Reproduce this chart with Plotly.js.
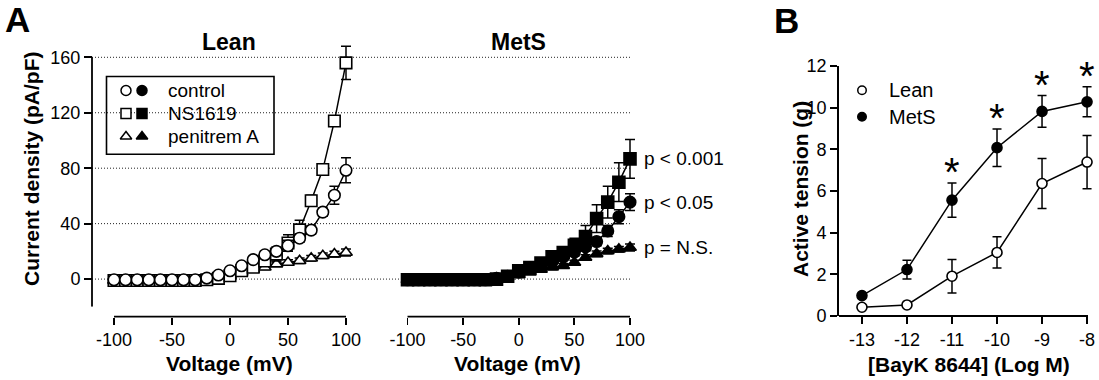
<!DOCTYPE html>
<html><head><meta charset="utf-8">
<script src="https://cdn.plot.ly/plotly-3.0.1.min.js"></script>
<style>html,body{margin:0;padding:0;background:#fff}#chart{width:1099px;height:380px}</style>
</head><body><div id="chart"></div>
<script>
// ---------- DATA ----------
const voltage = [-100,-90,-80,-70,-60,-50,-40,-30,-20,-10,0,10,20,30,40,50,60,70,80,90,100];

const leanControl    = [-0.5,-0.5,-0.5,-0.5,-0.5,-0.5,-0.5,-0.5,0.7,2.9,6,9.6,14,17.5,20,24,29.5,35.3,48.3,60.5,78.5];
const leanControlErr = [0.5,0.5,0.5,0.5,0.5,0.5,0.5,0.5,0.5,1,1,1.5,2,2.5,3,4,3,3,3,6.5,9];
const leanNS         = [-1,-1,-1,-1,-1,-1,-1,-1,-0.5,0.5,2.4,6,8.5,13,18,26,35.5,56.5,79,114,156];
const leanNSErr      = [0.5,0.5,0.5,0.5,0.5,0.5,0.5,0.5,0.5,1,1,1.5,2,3,5,6,7,4,3,3,12];
const leanPen        = [-1,-1,-1,-1,-1,-1,-1,-1,-0.5,0,2.5,4.8,7,8.5,10.8,12,13.2,15,16.8,18,19.2];
const leanPenErr     = [0.5,0.5,0.5,0.5,0.5,0.5,0.5,0.5,0.5,0.5,1,1,1,1.5,1.5,2,2,2,2,2,2.5];

const metsControl    = [-0.5,-0.5,-0.5,-0.5,-0.5,-0.5,-0.5,-0.5,0.5,2,5,8,10,12.5,16,19.5,23.2,27.1,34.7,45,55.5];
const metsControlErr = [0.5,0.5,0.5,0.5,0.5,0.5,0.5,0.5,0.5,1,1,1.5,2,2,2.5,3,3,3,4,5,6];
const metsNS         = [-0.5,-0.5,-0.5,-0.5,-0.5,-0.5,-0.5,-0.5,0,2,6,8.4,11.5,16,19.2,24.4,30.7,43.6,55.5,69.9,86.7];
const metsNSErr      = [0.5,0.5,0.5,0.5,0.5,0.5,0.5,0.5,0.5,1,1.5,2,2.5,3,4,5,8,10,11.5,14,14];
const metsPen        = [-0.5,-0.5,-0.5,-0.5,-0.5,-0.5,-0.5,-0.5,0.5,1.5,3,5,7,8.5,9.7,12,15.6,18.2,20.3,21.5,22.8];
const metsPenErr     = [0.5,0.5,0.5,0.5,0.5,0.5,0.5,0.5,0.5,0.5,1,1,1,1.5,1.5,1.5,2,2,2,2,2.5];

const seriesNames = ['control','NS1619','penitrem A'];
const pLabels     = ['p < 0.001','p < 0.05','p = N.S.'];   // NS1619, control, penitrem A (MetS)

const xTicksA = [-100,-50,0,50,100];
const xTickTextA = ['-100','-50','0','50','100'];
const yTicksA = [0,40,80,120,160];

const bayK      = [-13,-12,-11,-10,-9,-8];
const bayKText  = ['-13','-12','-11','-10','-9','-8'];
const leanB     = [0.42,0.53,1.91,3.05,6.36,7.39];
const leanBErr  = [0.1,0.1,0.8,0.75,1.2,1.28];
const metsB     = [0.98,2.23,5.56,8.08,9.82,10.28];
const metsBErr  = [0.1,0.45,0.82,0.9,0.76,0.72];
const sigB      = ['','','*','*','*','*'];
const groupsB   = ['Lean','MetS'];
const yTicksB   = [0,2,4,6,8,10,12];

// ---------- HELPERS ----------
const W = 1099, H = 380;
const px = v => v / W, py = v => 1 - v / H;
const FONT = 'Liberation Sans, Arial, Helvetica, sans-serif';
const BLACK = '#000';

function series(x, y, err, xa, ya, symbol, fill, size, capw) {
  return {
    type: 'scatter', mode: 'lines+markers', x: x, y: y, xaxis: xa, yaxis: ya,
    cliponaxis: false, showlegend: false, hoverinfo: 'skip',
    line: {color: BLACK, width: 1.5},
    marker: {symbol: symbol, size: size, color: fill, line: {color: BLACK, width: 1.6}},
    error_y: {type: 'data', array: err, visible: true, color: BLACK, thickness: 1.5, width: capw}
  };
}

const traces = [
  // Lean (A)
  series(voltage, leanPen, leanPenErr, 'x', 'y', 'triangle-up', '#fff', 11, 5),
  series(voltage, leanNS, leanNSErr, 'x', 'y', 'square', '#fff', 11.5, 5),
  series(voltage, leanControl, leanControlErr, 'x', 'y', 'circle', '#fff', 11.5, 5),
  // MetS (A)
  series(voltage, metsPen, metsPenErr, 'x2', 'y', 'triangle-up', BLACK, 11, 5),
  series(voltage, metsControl, metsControlErr, 'x2', 'y', 'circle', BLACK, 11.5, 5),
  series(voltage, metsNS, metsNSErr, 'x2', 'y', 'square', BLACK, 12, 5),
  // B
  series(bayK, leanB, leanBErr, 'x3', 'y3', 'circle', '#fff', 10, 4.5),
  series(bayK, metsB, metsBErr, 'x3', 'y3', 'circle', BLACK, 10, 4.5),
  // legend A markers (hidden category axes)
  {type: 'scatter', mode: 'markers', x: seriesNames.map(() => 'open'), y: seriesNames,
   xaxis: 'x4', yaxis: 'y4', cliponaxis: false, showlegend: false, hoverinfo: 'skip',
   marker: {symbol: ['circle','square','triangle-up'], size: 10, color: '#fff', line: {color: BLACK, width: 1.5}}},
  {type: 'scatter', mode: 'markers', x: seriesNames.map(() => 'filled'), y: seriesNames,
   xaxis: 'x4', yaxis: 'y4', cliponaxis: false, showlegend: false, hoverinfo: 'skip',
   marker: {symbol: ['circle','square','triangle-up'], size: 10, color: BLACK, line: {color: BLACK, width: 1.5}}},
  // legend B markers
  {type: 'scatter', mode: 'markers', x: groupsB.map(() => 'm'), y: groupsB,
   xaxis: 'x5', yaxis: 'y5', cliponaxis: false, showlegend: false, hoverinfo: 'skip',
   marker: {symbol: 'circle', size: 8.5, color: ['#fff', BLACK], line: {color: BLACK, width: 1.5}}}
];

const axisStyle = {
  showline: true, linecolor: BLACK, linewidth: 1.8, ticks: 'outside', tickcolor: BLACK,
  tickwidth: 1.8, ticklen: 7, showgrid: false, zeroline: false, fixedrange: true,
  tickfont: {family: FONT, size: 18, color: BLACK}
};

// geometry (pixels) of the reference axes
const A_Y_BOTTOM = 306.8, A_Y_TOP = 57.3, A_YMIN = -20, A_YMAX = 160;
const aYScale = (A_Y_BOTTOM - A_Y_TOP) / (A_YMAX - A_YMIN);
const A_Y_PAD = 22; // extra room above 160 so error bars are not clipped
const A_X_PAD = 12;
const leanX0 = 114, leanX1 = 346, metsX0 = 407.5, metsX1 = 630;
const leanScale = (leanX1 - leanX0) / 200, metsScale = (metsX1 - metsX0) / 200;
const B_X0 = 839, B_X1 = 1088, B_XMIN = -13.51, B_XMAX = -8, B_X_PAD = 12;
const bScale = (B_X1 - B_X0) / (B_XMAX - B_XMIN);
const AX_Y = 316.7;

const axLine = {color: BLACK, width: 1.8};
const shapes = yTicksA.map(v => ({
  type: 'line', xref: 'paper', yref: 'y', x0: px(92), x1: px(630), y0: v, y1: v,
  line: {color: '#222', width: 1, dash: '1px,2px'}, layer: 'below'
}));
// axis lines for panel A (drawn only over their tick span, as in the reference)
shapes.push({type: 'line', xref: 'paper', yref: 'y', x0: px(92), x1: px(92), y0: A_YMIN, y1: A_YMAX, line: axLine});
shapes.push({type: 'line', xref: 'x', yref: 'paper', x0: xTicksA[0], x1: xTicksA[xTicksA.length-1], y0: py(AX_Y), y1: py(AX_Y), line: axLine});
shapes.push({type: 'line', xref: 'x2', yref: 'paper', x0: xTicksA[0], x1: xTicksA[xTicksA.length-1], y0: py(AX_Y), y1: py(AX_Y), line: axLine});
// x axis line for panel B
shapes.push({type: 'line', xref: 'paper', yref: 'paper', x0: px(B_X0), x1: px(B_X1), y0: py(316), y1: py(316), line: axLine});
// legend box A
shapes.push({type: 'rect', xref: 'paper', yref: 'paper', x0: px(106.5), x1: px(274), y0: py(154.3), y1: py(76.5),
  line: {color: BLACK, width: 1.6}, fillcolor: 'rgba(0,0,0,0)'});

const ann = [];
function txt(text, x, y, size, bold, extra) {
  ann.push(Object.assign({text: bold ? '<b>' + text + '</b>' : text, xref: 'paper', yref: 'paper',
    x: px(x), y: py(y), xanchor: 'center', yanchor: 'middle', showarrow: false,
    font: {family: FONT, size: size, color: BLACK}}, extra || {}));
}
txt('A', 17, 19, 35, true);
txt('B', 786, 21, 35, true);
txt('Lean', 229, 42, 23, true);
txt('MetS', 518, 42, 23, true);
txt('Current density (pA/pF)', 32, 169, 21, true, {textangle: -90});
txt('Voltage (mV)', 229.5, 363, 21, true);
txt('Voltage (mV)', 517.5, 363, 21, true);
txt('Active tension (g)', 800, 189, 21, true, {textangle: -90});
txt('[BayK 8644] (Log M)', 968.5, 364, 21, true);

seriesNames.forEach((n, i) => ann.push({text: n, xref: 'paper', yref: 'y4', x: px(165.5), y: i,
  xanchor: 'left', yanchor: 'middle', showarrow: false, font: {family: FONT, size: 19, color: BLACK}}));
groupsB.forEach((n, i) => ann.push({text: n, xref: 'paper', yref: 'y5', x: px(887), y: i,
  xanchor: 'left', yanchor: 'middle', showarrow: false, font: {family: FONT, size: 20, color: BLACK}}));
[metsNS, metsControl, metsPen].forEach((s, i) => ann.push({text: pLabels[i], xref: 'x2', yref: 'y',
  x: voltage[voltage.length - 1], y: s[s.length - 1], xanchor: 'left', yanchor: 'middle', xshift: 12,
  showarrow: false, font: {family: FONT, size: 19, color: BLACK}}));
bayK.forEach((c, i) => { if (sigB[i]) ann.push({text: sigB[i], xref: 'x3', yref: 'y3', x: c,
  y: metsB[i] + metsBErr[i], xanchor: 'center', yanchor: 'bottom', yshift: -13, showarrow: false,
  font: {family: FONT, size: 40, color: BLACK}}); });

const noLine = {showline: false};
const layout = {
  width: W, height: H, margin: {l: 0, r: 0, t: 0, b: 0},
  paper_bgcolor: '#fff', plot_bgcolor: 'rgba(0,0,0,0)', showlegend: false,
  font: {family: FONT, color: BLACK},
  xaxis: Object.assign({}, axisStyle, noLine, {domain: [px(leanX0 - A_X_PAD), px(leanX1 + A_X_PAD)],
    range: [-100 - A_X_PAD / leanScale, 100 + A_X_PAD / leanScale], anchor: 'free',
    position: py(AX_Y), tickvals: xTicksA, ticktext: xTickTextA}),
  xaxis2: Object.assign({}, axisStyle, noLine, {domain: [px(metsX0 - A_X_PAD), px(metsX1 + A_X_PAD)],
    range: [-100 - A_X_PAD / metsScale, 100 + A_X_PAD / metsScale], anchor: 'free',
    position: py(AX_Y), tickvals: xTicksA, ticktext: xTickTextA}),
  yaxis: Object.assign({}, axisStyle, noLine, {domain: [py(A_Y_BOTTOM), py(A_Y_TOP - A_Y_PAD)],
    range: [A_YMIN, A_YMAX + A_Y_PAD / aYScale], anchor: 'free',
    position: px(92), tickvals: yTicksA, ticktext: yTicksA.map(String), ticklen: 8}),
  xaxis3: Object.assign({}, axisStyle, noLine, {domain: [px(B_X0), px(B_X1 + B_X_PAD)],
    range: [B_XMIN, B_XMAX + B_X_PAD / bScale], anchor: 'y3',
    tickvals: bayK, ticktext: bayKText}),
  yaxis3: Object.assign({}, axisStyle, {domain: [py(316), py(66)], range: [0, 12], anchor: 'x3',
    tickvals: yTicksB, ticktext: yTicksB.map(String)}),
  xaxis4: {visible: false, type: 'category', categoryarray: ['open','filled'], range: [-0.5, 1.5],
    domain: [px(118), px(150)], anchor: 'y4', fixedrange: true},
  yaxis4: {visible: false, type: 'category', categoryarray: seriesNames, range: [2.5, -0.5],
    domain: [py(148), py(79)], anchor: 'x4', fixedrange: true},
  xaxis5: {visible: false, type: 'category', range: [-0.5, 0.5],
    domain: [px(854), px(870)], anchor: 'y5', fixedrange: true},
  yaxis5: {visible: false, type: 'category', categoryarray: groupsB, range: [1.5, -0.5],
    domain: [py(130), py(77)], anchor: 'x5', fixedrange: true},
  shapes: shapes,
  annotations: ann
};

Plotly.newPlot('chart', traces, layout, {displayModeBar: false, staticPlot: true});
</script>
</body></html>
